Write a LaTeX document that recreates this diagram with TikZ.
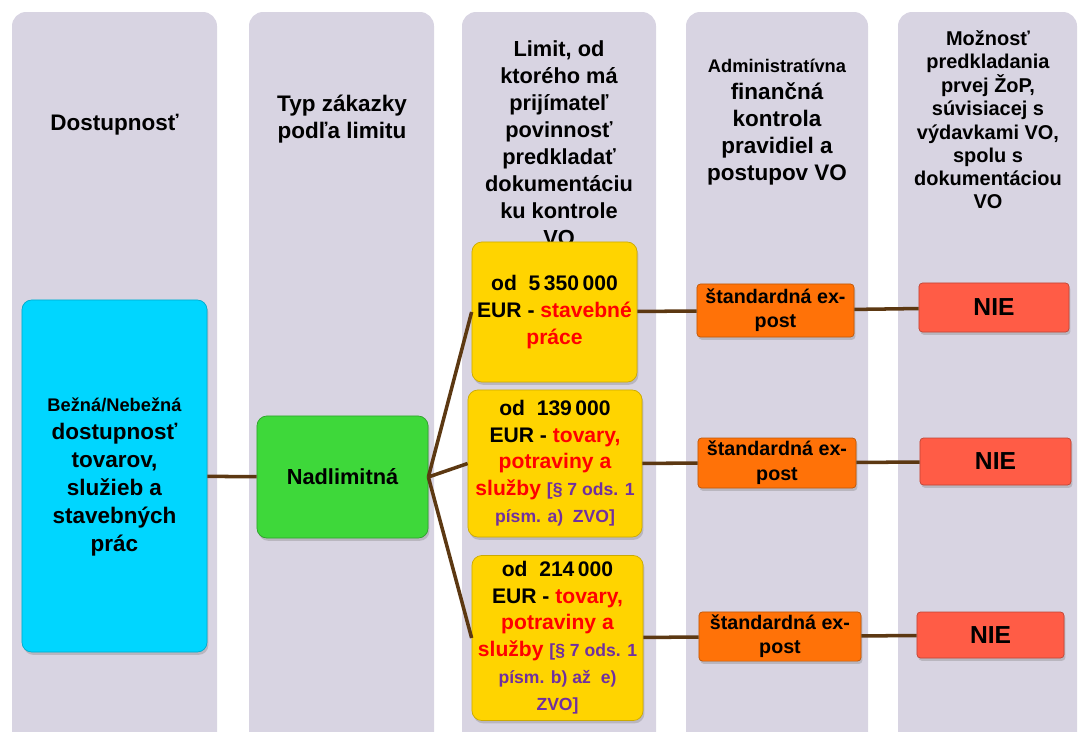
\documentclass[tikz,border=0pt]{standalone}
\usepackage{fontspec}
\setmainfont{Liberation Sans}
\usetikzlibrary{positioning,shadows}

\definecolor{colgray}{RGB}{216,212,226}
\definecolor{boxblue}{RGB}{0,214,255}
\definecolor{boxgreen}{RGB}{62,216,58}
\definecolor{boxyellow}{RGB}{255,212,0}
\definecolor{boxorange}{RGB}{255,114,8}
\definecolor{boxred}{RGB}{255,92,70}
\definecolor{linkbrown}{RGB}{92,56,18}
\definecolor{txtred}{RGB}{255,0,0}
\definecolor{txtpurple}{RGB}{112,48,160}

\newcommand{\red}[1]{\textcolor{txtred}{#1}}
\newcommand{\purple}[1]{\textcolor{txtpurple}{#1}}

\begin{document}
\begin{tikzpicture}[x=0.025cm,y=-0.025cm,font=\bfseries]
  \tikzstyle{column}=[fill=colgray, rounded corners=10pt]
  \tikzstyle{header}=[align=center, inner sep=0pt]
  \tikzstyle{roundbox}=[rectangle, rounded corners=7pt, inner sep=0pt,
                        drop shadow={opacity=0.35, shadow xshift=1pt, shadow yshift=-2pt}]
  \tikzstyle{flatbox}=[rectangle, rounded corners=2.5pt, inner sep=0pt,
                       drop shadow={opacity=0.35, shadow xshift=1pt, shadow yshift=-2pt}]
  \tikzstyle{branch}=[draw=linkbrown, line width=2.5pt]
  \setlength{\tabcolsep}{0pt}

  \useasboundingbox (0,0) rectangle (1079,731);
  % gray columns
  \fill[column] (12,12) rectangle (217,760);
  \fill[column] (249,12) rectangle (434,760);
  \fill[column] (462,12) rectangle (656,760);
  \fill[column] (686,12) rectangle (868,760);
  \fill[column] (898,12) rectangle (1077,760);

  % column headers
  \node[header, font=\bfseries\fontsize{16}{19}\selectfont] (Head Access) at (114.5,125) {Dostupnosť};
  \node[header, font=\bfseries\fontsize{16}{19}\selectfont] (Head Type) at (342,120) {\begin{tabular}{c}Typ zákazky\\
                                                                                                           podľa limitu
                                                                                        \end{tabular}};
  \node[header, font=\bfseries\fontsize{15.5}{19.2}\selectfont] (Head Limit) at (559,146) {\begin{tabular}{c}Limit, od\\
                                                                                                             ktorého má\\
                                                                                                             prijímateľ\\
                                                                                                             povinnosť\\
                                                                                                             predkladať\\
                                                                                                             dokumentáciu\\
                                                                                                             ku kontrole\\
                                                                                                             VO
                                                                                          \end{tabular}};
  \node[header, font=\bfseries\fontsize{16}{19.2}\selectfont] (Head Control) at (777,121) {\begin{tabular}{c}{\fontsize{13}{19.2}\selectfont Administratívna}\\
                                                                                                              finančná\\
                                                                                                              kontrola\\
                                                                                                              pravidiel a\\
                                                                                                              postupov VO
                                                                                           \end{tabular}};
  \node[header, font=\bfseries\fontsize{14.2}{16.4}\selectfont] (Head Claim) at (988,122) {\begin{tabular}{c}Možnosť\\
                                                                                                              predkladania\\
                                                                                                              prvej ŽoP,\\
                                                                                                              súvisiacej s\\
                                                                                                              výdavkami VO,\\
                                                                                                              spolu s\\
                                                                                                              dokumentáciou\\
                                                                                                              VO
                                                                                           \end{tabular}};

  % boxes
  \node[roundbox, fill=boxblue, draw=boxblue!80!black, line width=0.5pt,
        minimum width=4.625cm, minimum height=8.8cm,
        font=\bfseries\fontsize{16}{20}\selectfont] (Availability) at (114.5,476) {\begin{tabular}{c}{\fontsize{13}{20}\selectfont Bežná/Nebežná}\\
                                                                                                         dostupnosť\\
                                                                                                         tovarov,\\
                                                                                                         služieb a\\
                                                                                                         stavebných\\
                                                                                                         prác
                                                                                      \end{tabular}};
  \node[roundbox, fill=boxgreen, draw=boxgreen!75!black, line width=0.5pt,
        minimum width=4.275cm, minimum height=3.05cm,
        font=\bfseries\fontsize{15.5}{19}\selectfont] (Above Limit) at (342.5,477) {Nadlimitná};

  \node[roundbox, fill=boxyellow, draw=boxyellow!80!black, line width=0.5pt,
        minimum width=4.125cm, minimum height=3.5cm,
        font=\bfseries\fontsize{15}{19}\selectfont] (Works) at (554.5,312) {\begin{tabular}{c}od\ \ 5\,350\,000\\
                                                                                          EUR - \red{stavebné}\\
                                                                                          \red{práce}
                                                                       \end{tabular}};
  \node[roundbox, fill=boxyellow, draw=boxyellow!80!black, line width=0.5pt,
        minimum width=4.35cm, minimum height=3.675cm,
        font=\bfseries\fontsize{15}{19}\selectfont] (Goods A) at (555,463.5) {\begin{tabular}{c}od\ \ 139\,000\\
                                                                                           EUR - \red{tovary,}\\
                                                                                           \red{potraviny a}\\
                                                                                           \red{služby} \purple{\fontsize{12.5}{19}\selectfont [§ 7 ods. 1}\\
                                                                                           \purple{\fontsize{12.5}{19}\selectfont písm. a)\ \ ZVO]}
                                                                        \end{tabular}};
  \node[roundbox, fill=boxyellow, draw=boxyellow!80!black, line width=0.5pt,
        minimum width=4.275cm, minimum height=4.125cm,
        font=\bfseries\fontsize{15}{19}\selectfont] (Goods B) at (557.5,638) {\begin{tabular}{c}od\ \ 214\,000\\
                                                                                           EUR - \red{tovary,}\\
                                                                                           \red{potraviny a}\\
                                                                                           \red{služby} \purple{\fontsize{12.5}{19}\selectfont [§ 7 ods. 1}\\
                                                                                           \purple{\fontsize{12.5}{17}\selectfont písm. b) až\ \ e)}\\
                                                                                           \purple{\fontsize{12.5}{16}\selectfont ZVO]}
                                                                        \end{tabular}};

  \node[flatbox, fill=boxorange, draw=boxorange!75!black, line width=0.5pt,
        minimum width=3.925cm, minimum height=1.325cm,
        font=\bfseries\fontsize{14}{17.5}\selectfont] (Ex Post 1) at (775.5,310.5) {\begin{tabular}{c}štandardná ex-\\
                                                                                                   post
                                                                                \end{tabular}};
  \node[flatbox, fill=boxorange, draw=boxorange!75!black, line width=0.5pt,
        minimum width=3.95cm, minimum height=1.25cm,
        font=\bfseries\fontsize{14}{17.5}\selectfont] (Ex Post 2) at (777,463) {\begin{tabular}{c}štandardná ex-\\
                                                                                               post
                                                                            \end{tabular}};
  \node[flatbox, fill=boxorange, draw=boxorange!75!black, line width=0.5pt,
        minimum width=4.05cm, minimum height=1.225cm,
        font=\bfseries\fontsize{14}{17.5}\selectfont] (Ex Post 3) at (780,636.5) {\begin{tabular}{c}štandardná ex-\\
                                                                                                 post
                                                                              \end{tabular}};

  \node[flatbox, fill=boxred, draw=boxred!75!black, line width=0.5pt,
        minimum width=3.75cm, minimum height=1.225cm,
        font=\bfseries\fontsize{17.5}{20}\selectfont] (No 1) at (994,307.5) {NIE};
  \node[flatbox, fill=boxred, draw=boxred!75!black, line width=0.5pt,
        minimum width=3.775cm, minimum height=1.175cm,
        font=\bfseries\fontsize{17.5}{20}\selectfont] (No 2) at (995.5,461.5) {NIE};
  \node[flatbox, fill=boxred, draw=boxred!75!black, line width=0.5pt,
        minimum width=3.675cm, minimum height=1.15cm,
        font=\bfseries\fontsize{17.5}{20}\selectfont] (No 3) at (990.5,635) {NIE};

  % connectors
  \draw[branch] (Availability) -- (Above Limit);
  \draw[branch] (Above Limit.east) -- (Works.west);
  \draw[branch] (Above Limit.east) -- (Goods A.west);
  \draw[branch] (Above Limit.east) -- (Goods B.west);
  \draw[branch] (Works) -- (Ex Post 1);
  \draw[branch] (Goods A) -- (Ex Post 2);
  \draw[branch] (Goods B) -- (Ex Post 3);
  \draw[branch] (Ex Post 1) -- (No 1);
  \draw[branch] (Ex Post 2) -- (No 2);
  \draw[branch] (Ex Post 3) -- (No 3);
\end{tikzpicture}
\end{document}
